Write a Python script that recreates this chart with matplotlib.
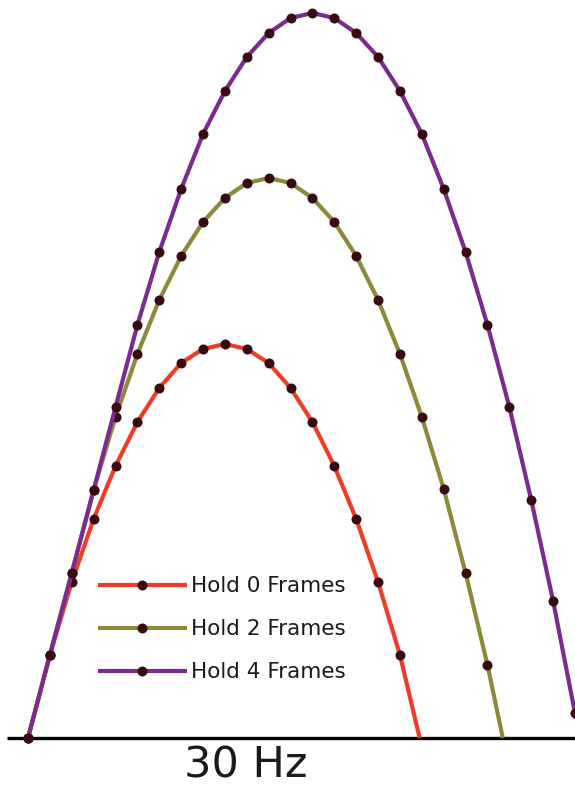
import numpy as np
import matplotlib.pyplot as plt

# jump height per frame (px above ground), one dot per frame at 30 Hz
hold0 = [0, 83, 156, 219, 272, 316, 350, 375, 389, 394, 389, 375, 350, 316,
         272, 219, 156, 83]
hold2 = [0, 83, 165, 248, 321, 384, 438, 482, 516, 540, 555, 560, 555, 540,
         516, 482, 438, 384, 321, 249, 165, 73]
hold4 = [0, 83, 165, 248, 331, 413, 486, 549, 604, 647, 681, 705, 720, 725,
         720, 705, 681, 647, 604, 549, 486, 413, 331, 238, 137, 25]
# frame at which each arc touches the ground again
landing = [17.9, 21.7, 25.2]

labels = ['Hold 0 Frames', 'Hold 2 Frames', 'Hold 4 Frames']
colors = ['#ee3d26', '#8a8a3a', '#7b2b8d']
dot_color = '#3a0a12'

px = 21.88  # pixels per frame

fig = plt.figure(figsize=(5.75, 7.87), dpi=100)
ax = fig.add_axes([0, 0, 1, 1])
ax.set_xlim(-28 / px, (575 - 28) / px)
ax.set_ylim(-49, 738)
ax.axis('off')

for heights, land, color, label in zip([hold0, hold2, hold4], landing, colors, labels):
    frames = list(range(len(heights))) + [land]
    ys = heights + [0]
    ax.plot(frames, ys, color=color, lw=3.0, marker='o', ms=7.2,
            mfc=dot_color, mec=dot_color, mew=0,
            markevery=list(range(len(heights))), label=label,
            solid_capstyle='butt', clip_on=False)

# ground line
ax.plot([(7 - 28) / px, (575 - 28) / px], [0, 0], color='black', lw=2.4,
        zorder=1, solid_capstyle='butt')

ax.text((246 - 28) / px, -27, '30 Hz', ha='center', va='center',
        fontsize=31, color='#1a1a1a')

leg = ax.legend(loc='upper left', bbox_to_anchor=(0.155, 0.279),
                frameon=False, fontsize=15.5, handlelength=4.15,
                handletextpad=0.2, labelspacing=1.07, numpoints=1,
                borderaxespad=0)
for t in leg.get_texts():
    t.set_color('#1a1a1a')

fig.savefig('out.png', dpi=100)
